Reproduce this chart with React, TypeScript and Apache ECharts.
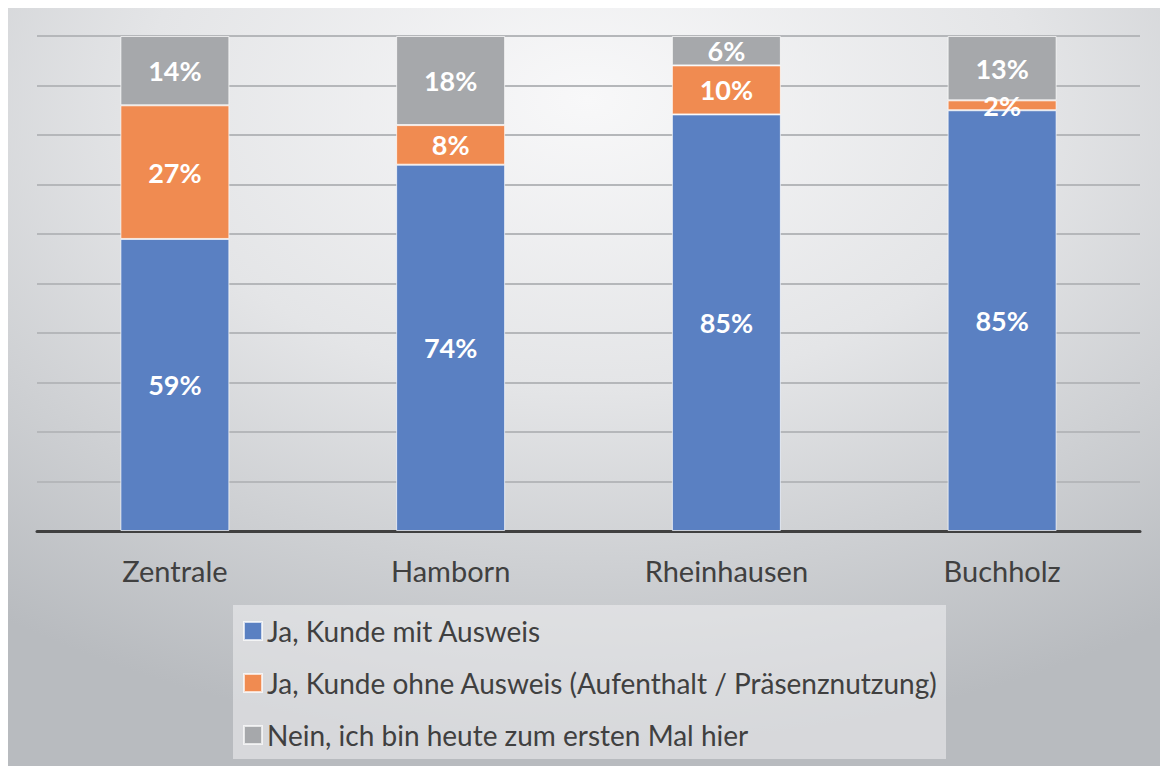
import React, { useEffect, useRef } from "react";
import * as echarts from "echarts";

const categories = ["Zentrale", "Hamborn", "Rheinhausen", "Buchholz"];
const seriesNames = [
  "Ja, Kunde mit Ausweis",
  "Ja, Kunde ohne Ausweis (Aufenthalt / Präsenznutzung)",
  "Nein, ich bin heute zum ersten Mal hier",
];
const mitAusweis = [59, 74, 85, 85];
const ohneAusweis = [27, 8, 10, 2];
const ersterBesuch = [14, 18, 6, 13];
const colors = ["#5a80c2", "#f08b51", "#a6a8ab"];

export default function App() {
  const ref = useRef<HTMLDivElement>(null);
  useEffect(() => {
    if (!ref.current) return;
    const chart = echarts.init(ref.current, undefined, { renderer: "svg" });
    const raw = [mitAusweis, ohneAusweis, ersterBesuch];
    const totals = categories.map((_, i) => raw.reduce((s, a) => s + a[i], 0));
    const font = "Lato, 'Liberation Sans', sans-serif";
    chart.setOption({
      animation: false,
      backgroundColor: {
        type: "radial",
        x: 0.5,
        y: 0.12,
        r: 0.85,
        colorStops: [
          { offset: 0, color: "#f8f8f9" },
          { offset: 0.45, color: "#e4e5e7" },
          { offset: 1, color: "#b8bbbf" },
        ],
      },
      graphic: [
        {
          type: "rect",
          left: 225,
          top: 597,
          shape: { width: 713, height: 154 },
          style: { fill: "rgba(240,241,243,0.55)" },
          z: 0,
        },
      ],
      grid: { left: 29, top: 28, width: 1103, height: 495, containLabel: false },
      xAxis: {
        type: "category",
        data: categories,
        axisLine: { lineStyle: { color: "#404040", width: 3 } },
        axisTick: { show: false },
        axisLabel: {
          color: "#404040",
          fontFamily: font,
          fontSize: 29,
          margin: 25,
        },
      },
      yAxis: {
        type: "value",
        min: 0,
        max: 100,
        interval: 10,
        axisLabel: { show: false },
        axisLine: { show: false },
        axisTick: { show: false },
        splitLine: { lineStyle: { color: "#b5b7ba", width: 2 } },
      },
      legend: {
        orient: "vertical",
        left: 230,
        top: 603,
        padding: 5,
        itemWidth: 18,
        itemHeight: 18,
        itemGap: 22,
        icon: "rect",
        textStyle: {
          color: "#404040",
          fontFamily: font,
          fontSize: 28,
          lineHeight: 30,
        },
        data: seriesNames,
      },
      series: raw.map((arr, si) => ({
        name: seriesNames[si],
        type: "bar",
        stack: "total",
        barWidth: 109,
        data: arr.map((v, i) => (v / totals[i]) * 100),
        itemStyle: {
          color: colors[si],
          borderColor: "rgba(255,255,255,0.7)",
          borderWidth: 1,
        },
        label: {
          show: true,
          position: "inside",
          color: "#ffffff",
          fontFamily: font,
          fontWeight: "bold",
          fontSize: 27,
          formatter: (p: any) => `${arr[p.dataIndex]}%`,
        },
      })),
    });
    return () => chart.dispose();
  }, []);
  return <div ref={ref} style={{ width: 1160, height: 759 }} />;
}
